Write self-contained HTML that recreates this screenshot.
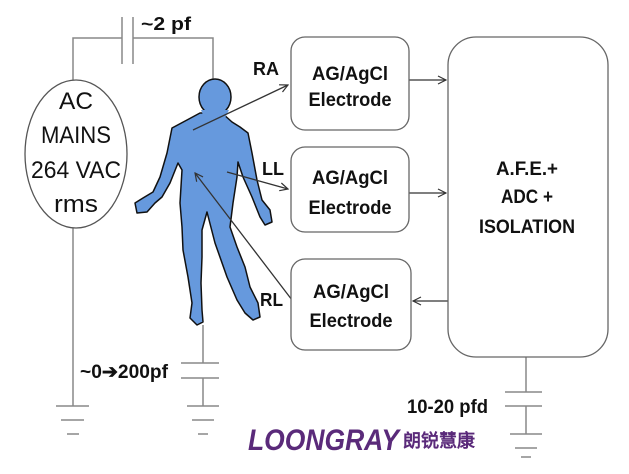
<!DOCTYPE html>
<html><head><meta charset="utf-8"><style>
body{margin:0;background:#fff}
svg{display:block}
text{font-family:"Liberation Sans",sans-serif}
</style></head><body>
<svg width="629" height="474" viewBox="0 0 629 474" xmlns="http://www.w3.org/2000/svg">
<defs><marker id="ah" markerWidth="10" markerHeight="10" refX="9" refY="5" orient="auto" markerUnits="userSpaceOnUse"><path d="M1,1 L9,5 L1,9" fill="none" stroke="#333" stroke-width="1.2"/></marker></defs>
<g stroke="#888" stroke-width="1.5" fill="none">
<path d="M73,80 V38 H122 M133,38 H213 V82"/>
<path d="M122,17 V64 M133,17 V64"/>
<path d="M73,228 V406"/>
<path d="M56,406 H89 M61,420 H84 M67,434 H79"/>
<path d="M203,325 V363 M181,363 H219 M181,378 H219 M203,378 V406"/>
<path d="M187,406 H219 M192,420 H214 M198,434 H208"/>
<path d="M526,357 V392 M505,392 H542 M505,406 H542 M526,406 V434"/>
<path d="M510,434 H542 M515,448 H537 M521,457 H531"/>
</g>
<ellipse cx="76" cy="154" rx="51" ry="74" fill="#fff" stroke="#555" stroke-width="1.3"/>
<g font-size="24" text-anchor="middle" fill="#111" lengthAdjust="spacingAndGlyphs">
<text x="76" y="109" textLength="34" lengthAdjust="spacingAndGlyphs">AC</text>
<text x="76" y="143" textLength="70" lengthAdjust="spacingAndGlyphs">MAINS</text>
<text x="76" y="178" textLength="90" lengthAdjust="spacingAndGlyphs">264 VAC</text>
<text x="76" y="212" textLength="44" lengthAdjust="spacingAndGlyphs">rms</text>
</g>
<text x="141" y="30" font-size="18" font-weight="bold" fill="#111" textLength="50" lengthAdjust="spacingAndGlyphs">~2 pf</text>
<path fill="#6699dd" stroke="#111" stroke-width="1.5" stroke-linejoin="round" d="M222,113 L232,122 L240,127 L248,133 L252,153 L257,180 L262,200 L270,210 L272,222 L265,225 L260,217 L252,197 L243,177 L238,162 L237,177 L233,203 L230,227 L237,247 L245,267 L250,287 L258,303 L260,317 L253,320 L245,313 L237,300 L227,277 L215,243 L207,212 L202,230 L202,257 L201,283 L202,310 L203,322 L197,325 L190,318 L192,303 L188,277 L183,250 L182,227 L180,203 L182,170 L178,163 L170,183 L162,197 L155,203 L147,212 L137,213 L135,203 L143,198 L153,192 L160,177 L167,153 L172,128 L187,120 L200,113 Z"/>
<ellipse cx="215" cy="97" rx="16" ry="18" fill="#6699dd" stroke="#111" stroke-width="1.5"/>
<path d="M201,110 L229,110 L224,120 L205,120Z" fill="#6699dd"/>
<g stroke="#333" stroke-width="1.3" fill="none">
<line x1="193" y1="130" x2="288" y2="85" marker-end="url(#ah)"/>
<line x1="227" y1="172" x2="288" y2="189" marker-end="url(#ah)"/>
<line x1="292" y1="300" x2="195" y2="173" marker-end="url(#ah)"/>
<line x1="409" y1="80" x2="446" y2="80" marker-end="url(#ah)"/>
<line x1="409" y1="193" x2="446" y2="193" marker-end="url(#ah)"/>
<line x1="450" y1="301" x2="413" y2="301" marker-end="url(#ah)"/>
</g>
<g font-size="18" font-weight="bold" fill="#111">
<text x="253" y="75" textLength="26" lengthAdjust="spacingAndGlyphs">RA</text>
<text x="262" y="175" textLength="22" lengthAdjust="spacingAndGlyphs">LL</text>
<text x="260" y="306" textLength="23" lengthAdjust="spacingAndGlyphs">RL</text>
</g>
<g fill="#fff" stroke="#666" stroke-width="1.3">
<rect x="291" y="37" width="118" height="93" rx="14"/>
<rect x="291" y="147" width="118" height="85" rx="14"/>
<rect x="291" y="259" width="120" height="91" rx="14"/>
<rect x="448" y="37" width="160" height="320" rx="28"/>
</g>
<g font-size="19" font-weight="bold" text-anchor="middle" fill="#111">
<text x="350" y="80" textLength="76" lengthAdjust="spacingAndGlyphs">AG/AgCl</text><text x="350" y="106" textLength="83" lengthAdjust="spacingAndGlyphs">Electrode</text>
<text x="350" y="184" textLength="76" lengthAdjust="spacingAndGlyphs">AG/AgCl</text><text x="350" y="214" textLength="83" lengthAdjust="spacingAndGlyphs">Electrode</text>
<text x="351" y="298" textLength="76" lengthAdjust="spacingAndGlyphs">AG/AgCl</text><text x="351" y="327" textLength="83" lengthAdjust="spacingAndGlyphs">Electrode</text>
<text x="527" y="175" textLength="62" lengthAdjust="spacingAndGlyphs">A.F.E.+</text>
<text x="527" y="203" textLength="52" lengthAdjust="spacingAndGlyphs">ADC +</text>
<text x="527" y="233" textLength="96" lengthAdjust="spacingAndGlyphs">ISOLATION</text>
</g>
<text x="80" y="378" font-size="19" font-weight="bold" fill="#111" textLength="88" lengthAdjust="spacingAndGlyphs">~0➔200pf</text>
<text x="407" y="413" font-size="19" font-weight="bold" fill="#111" textLength="81" lengthAdjust="spacingAndGlyphs">10-20 pfd</text>
<text x="248" y="450" font-size="30" font-weight="bold" font-style="italic" fill="#5a2a7a" textLength="151" lengthAdjust="spacingAndGlyphs">LOONGRAY</text>
<text x="403" y="447" font-size="18" font-weight="bold" fill="#5a2a7a" font-family="'Noto Sans CJK SC',sans-serif" textLength="72" lengthAdjust="spacingAndGlyphs">朗锐慧康</text>
</svg>
</body></html>
